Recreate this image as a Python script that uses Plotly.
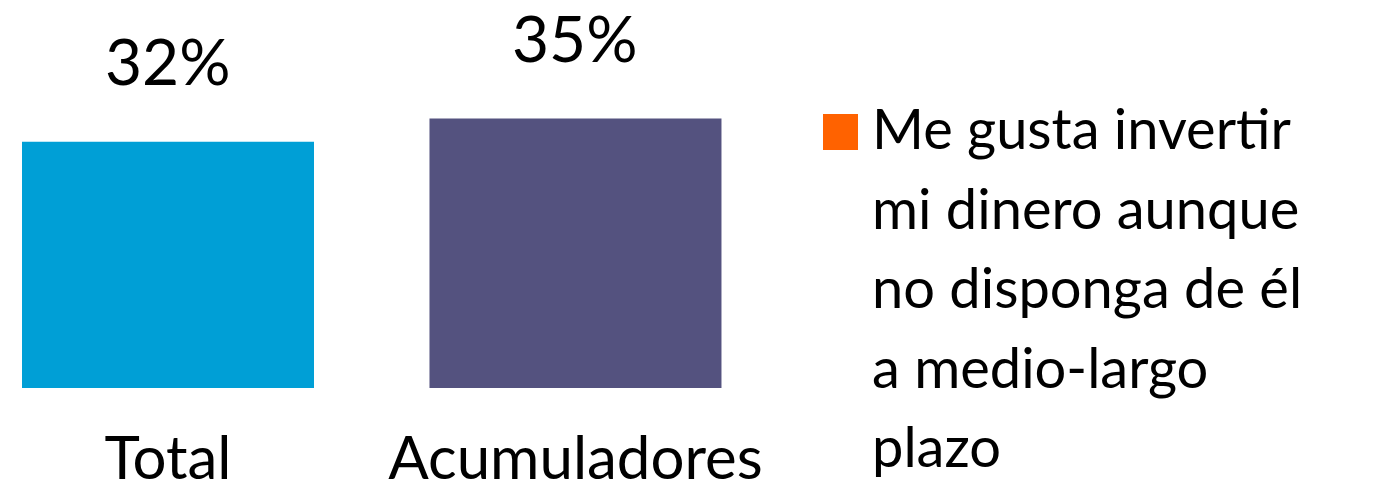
import plotly.graph_objects as go

categories = ["Total", "Acumuladores"]
values = [32, 35]
value_labels = ["32%", "35%"]
bar_colors = ["#009fd6", "#54527f"]
legend_lines = ["Me gusta invertir", "mi dinero aunque", "no disponga de él",
                "a medio-largo", "plazo"]
legend_color = "#ff6200"

W, H = 1395, 494
FONT = "Lato"

fig = go.Figure()

fig.add_trace(go.Bar(
    x=categories,
    y=values,
    marker=dict(color=bar_colors, line=dict(width=0)),
    width=0.7166,
    showlegend=False,
    hoverinfo="skip",
))

# value labels above bars
for cat, val, lab in zip(categories, values, value_labels):
    fig.add_annotation(
        x=cat, y=val, text=lab, showarrow=False,
        yanchor="bottom", yshift=41,
        font=dict(family=FONT, size=64, color="black"),
    )

# legend (drawn by hand so the swatch can be large)
fig.add_shape(
    type="rect", xref="paper", yref="paper",
    x0=823 / W, x1=858 / W, y0=1 - 150 / H, y1=1 - 114 / H,
    fillcolor=legend_color, line=dict(width=0),
)
for i, line in enumerate(legend_lines):
    fig.add_annotation(
        xref="paper", yref="paper", x=870 / W, y=1 - (150 + i * 79.5) / H,
        xanchor="left", yanchor="bottom", yshift=-13,
        text=line, showarrow=False,
        font=dict(family=FONT, size=56, color="black"),
    )

fig.update_layout(
    width=W, height=H,
    margin=dict(l=0, r=0, t=0, b=0, autoexpand=False),
    paper_bgcolor="white", plot_bgcolor="white",
    font=dict(family=FONT, color="black"),
)
fig.update_xaxes(
    domain=[0, 800 / W], range=[-0.4123, 1.551], automargin=False,
    showgrid=False, showline=False, zeroline=False, ticks="",
    tickfont=dict(family=FONT, size=60, color="black"),
    ticklabelstandoff=30,
)
fig.update_yaxes(
    domain=[106 / H, 1], range=[0, 50.4], automargin=False,
    showgrid=False, showline=False, zeroline=False,
    showticklabels=False, ticks="",
)

# drop the browser's default body margin so the figure fills the window
fig.write_html("out.html", config={"displayModeBar": False},
               post_script="document.body.style.margin = '0';")
